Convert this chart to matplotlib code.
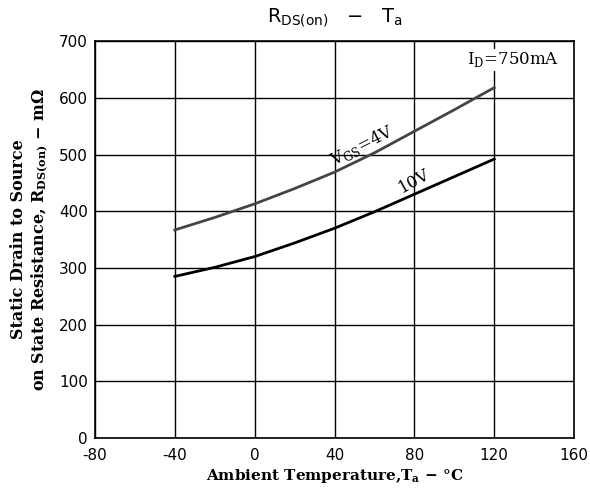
import numpy as np
from matplotlib import pyplot as plt

plt.rcParams["axes.unicode_minus"] = False

temp_4v = [-40, -20, 0, 20, 40, 60, 80, 100, 120]
rds_4v = [367, 389, 413, 440, 469, 503, 541, 579, 618]

temp_10v = [-40, -20, 0, 20, 40, 60, 80, 100, 120]
rds_10v = [285, 301, 320, 344, 370, 399, 430, 461, 492]

x_ticks = [-80, -40, 0, 40, 80, 120, 160]
y_ticks = [0, 100, 200, 300, 400, 500, 600, 700]

fig = plt.figure(figsize=(5.9, 4.96), dpi=100)
ax = fig.add_axes([0.161, 0.117, 0.812, 0.8])

ax.plot(temp_4v, rds_4v, color="#444444", lw=2)
ax.plot(temp_10v, rds_10v, color="black", lw=2)

ax.set_xlim(-80, 160)
ax.set_ylim(0, 700)
ax.set_xticks(x_ticks)
ax.set_yticks(y_ticks)
ax.grid(True, color="black", lw=1)
for s in ax.spines.values():
    s.set_linewidth(1.2)
ax.tick_params(length=0, labelsize=11)
ax.tick_params(axis="x", pad=7)
ax.tick_params(axis="y", pad=5)

serif = "DejaVu Serif"
ax.set_xlabel("Ambient Temperature,T$_\\mathregular{a}$ − °C", family=serif,
              fontsize=11, fontweight="bold", labelpad=3)
ax.set_ylabel("Static Drain to Source\non State Resistance, R$_\\mathregular{DS(on)}$ − mΩ",
              family=serif, fontsize=11.5, fontweight="bold", labelpad=6)
ax.set_title("R$_\\mathregular{DS(on)}$   −   T$_\\mathregular{a}$", fontsize=14, pad=14)

ax.text(54, 516, "V$_\\mathregular{GS}$=4V", family=serif, fontsize=12,
        rotation=27, ha="center", va="center")
ax.text(80, 453, "10V", family=serif, fontsize=12,
        rotation=29, ha="center", va="center")
ax.text(129.5, 667, "I$_\\mathregular{D}$=750mA", family=serif, fontsize=12,
        ha="center", va="center",
        bbox=dict(facecolor="white", edgecolor="none", pad=1))

plt.savefig("out.png")
